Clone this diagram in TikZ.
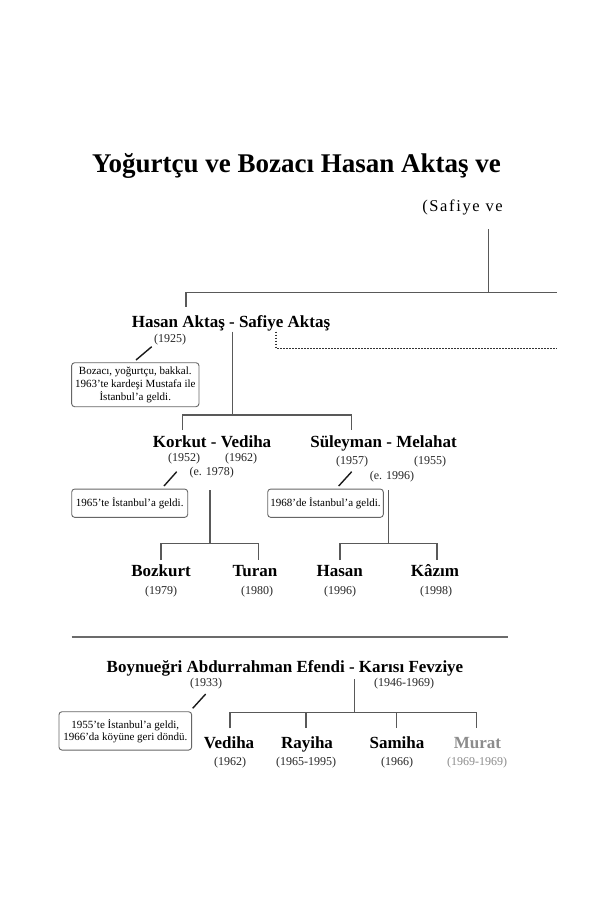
\documentclass[tikz,border=0pt]{standalone}
\usepackage{fontspec}
\setmainfont{Liberation Serif}
\begin{document}
\begin{tikzpicture}[x=1pt,y=-1pt,
 tree/.style={draw=black!65, line width=1.4pt},
 sep/.style={draw=black!58, line width=2.2pt},
 dots/.style={draw=black!80, line width=1.3pt, dash pattern=on 1.1pt off 1.9pt},
 nm/.style={anchor=base, inner sep=0pt, font=\bfseries\fontsize{17}{20}\selectfont},
 yr/.style={anchor=base, inner sep=0pt, font=\fontsize{12}{14}\selectfont, text=black!85},
 note/.style={draw=black!60, line width=0.9pt, rounded corners=3pt, inner sep=0pt, align=center, font=\fontsize{11}{13}\selectfont},
 slash/.style={draw=black!90, line width=1.4pt},
 faded/.style={text=black!45},
 ]
\fill[white] (0,0) rectangle (613,920);
\useasboundingbox (0,0) rectangle (613,920);

% title
\node[anchor=base west, inner sep=0pt, font=\bfseries\fontsize{27}{30}\selectfont] (title) at (92,172.7) {Yoğurtçu ve Bozacı Hasan Aktaş ve};
\node[anchor=base east, inner sep=0pt, font=\fontsize{16.5}{19}\selectfont\addfontfeatures{LetterSpace=10}] (sub) at (503,211.7) {(Safiye ve};

% top connector
\coordinate (stemT) at (488.7,229.3);
\coordinate (stemB) at (488.7,292.7);
\coordinate (barL) at (186,292.7);
\coordinate (barR) at (556.7,292.7);
\coordinate (dropA) at (186,307);
\draw[tree] (stemT) -- (stemB);
\draw[tree] (barR) -- (barL) -- (dropA);

% Hasan - Safiye
\node[nm] (hs) at (231,327) {Hasan Aktaş - Safiye Aktaş};
\node[yr] (hy) at (170,342.3) {(1925)};
\coordinate (s1a) at (151.7,346.7);
\coordinate (s1b) at (136,360);
\draw[slash] (s1a) -- (s1b);
\node[note, minimum width=127.3pt, minimum height=44pt] (n1) at (135.3,384.7) {Bozacı, yoğurtçu, bakkal.\\1963’te kardeşi Mustafa ile\\İstanbul’a geldi.};

% dotted
\coordinate (dA) at (276,331.7);
\coordinate (dB) at (276,348.3);
\coordinate (dC) at (556.7,348.3);
\draw[dots] (dA) -- (dB) -- (dC);

% children of Hasan
\coordinate (hsT) at (232.3,331.7);
\coordinate (hsB) at (232.3,415);
\coordinate (c1L) at (182.7,415);
\coordinate (c1R) at (351.7,415);
\coordinate (c1Ld) at (182.7,430);
\coordinate (c1Rd) at (351.7,430);
\draw[tree] (hsT) -- (hsB);
\draw[tree] (c1Ld) -- (c1L) -- (c1R) -- (c1Rd);

% Korkut - Vediha
\node[nm] (kv) at (212,447.3) {Korkut - Vediha};
\node[yr] (ky) at (184,461.7) {(1952)};
\node[yr] (vy) at (241,461.7) {(1962)};
\node[yr] (ke) at (211.7,475.7) {(e. 1978)};
\coordinate (s2a) at (176.7,471.7);
\coordinate (s2b) at (164,486);
\draw[slash] (s2a) -- (s2b);
\node[note, minimum width=116pt, minimum height=28.3pt] (n2) at (129.7,503.2) {1965’te İstanbul’a geldi.};

\coordinate (kT) at (210,490);
\coordinate (kB) at (210,543.3);
\coordinate (kL) at (161,543.3);
\coordinate (kR) at (258.3,543.3);
\coordinate (kLd) at (161,560);
\coordinate (kRd) at (258.3,560);
\draw[tree] (kT) -- (kB);
\draw[tree] (kLd) -- (kL) -- (kR) -- (kRd);
\node[nm] (bozkurt) at (161,576.7) {Bozkurt};
\node[yr] (bozy) at (161,594.3) {(1979)};
\node[nm] (turan) at (255,576.7) {Turan};
\node[yr] (tury) at (257,594.3) {(1980)};

% Suleyman - Melahat
\node[nm] (sm) at (383.5,447.3) {Süleyman - Melahat};
\node[yr] (sy) at (352,464.3) {(1957)};
\node[yr] (my) at (430,464.3) {(1955)};
\node[yr] (se) at (392,479) {(e. 1996)};
\coordinate (s3a) at (351.7,471.7);
\coordinate (s3b) at (338.7,486);
\draw[slash] (s3a) -- (s3b);
\node[note, minimum width=115.6pt, minimum height=28.3pt] (n3) at (325.5,503.2) {1968’de İstanbul’a geldi.};

\coordinate (sT) at (388.3,490);
\coordinate (sB) at (388.3,543.3);
\coordinate (sL) at (340,543.3);
\coordinate (sR) at (437,543.3);
\coordinate (sLd) at (340,560);
\coordinate (sRd) at (437,560);
\draw[tree] (sT) -- (sB);
\draw[tree] (sLd) -- (sL) -- (sR) -- (sRd);
\node[nm] (hasan) at (339.7,576.7) {Hasan};
\node[yr] (hasy) at (340,594.3) {(1996)};
\node[nm] (kazim) at (435,576.7) {Kâzım};
\node[yr] (kazy) at (436,594.3) {(1998)};

% separator
\coordinate (sepL) at (71.7,637.3);
\coordinate (sepR) at (507.7,637.3);
\draw[sep] (sepL) -- (sepR);

% Boynuegri family
\node[nm] (ba) at (285,672.7) {Boynueğri Abdurrahman Efendi - Karısı Fevziye};
\node[yr] (bay) at (206,686.7) {(1933)};
\node[yr] (fy) at (404,686.7) {(1946-1969)};
\coordinate (s4a) at (205.7,694);
\coordinate (s4b) at (192.7,708.3);
\draw[slash] (s4a) -- (s4b);
\node[note, minimum width=132.7pt, minimum height=38.3pt, font=\fontsize{11}{11.8}\selectfont] (n4) at (125.3,730.9) {1955’te İstanbul’a geldi,\\1966’da köyüne geri döndü.};

\coordinate (bT) at (354.3,679.3);
\coordinate (bB) at (354.3,712.7);
\coordinate (bL) at (230,712.7);
\coordinate (bR) at (476.7,712.7);
\coordinate (b1d) at (230,728.3);
\coordinate (b2) at (306,712.7);
\coordinate (b2d) at (306,728.3);
\coordinate (b3) at (396.7,712.7);
\coordinate (b3d) at (396.7,728.3);
\coordinate (b4d) at (476.7,728.3);
\draw[tree] (bT) -- (bB);
\draw[tree] (b1d) -- (bL) -- (bR) -- (b4d);
\draw[tree] (b2) -- (b2d);
\draw[tree] (b3) -- (b3d);

\node[nm] (vediha) at (229,748.3) {Vediha};
\node[yr] (vedy) at (230,765) {(1962)};
\node[nm] (rayiha) at (307,748.3) {Rayiha};
\node[yr] (rayy) at (306,765) {(1965-1995)};
\node[nm] (samiha) at (397,748.3) {Samiha};
\node[yr] (samy) at (397,765) {(1966)};
\node[nm, faded] (murat) at (477.5,748.3) {Murat};
\node[yr, faded] (mury) at (477,765) {(1969-1969)};
\end{tikzpicture}
\end{document}
